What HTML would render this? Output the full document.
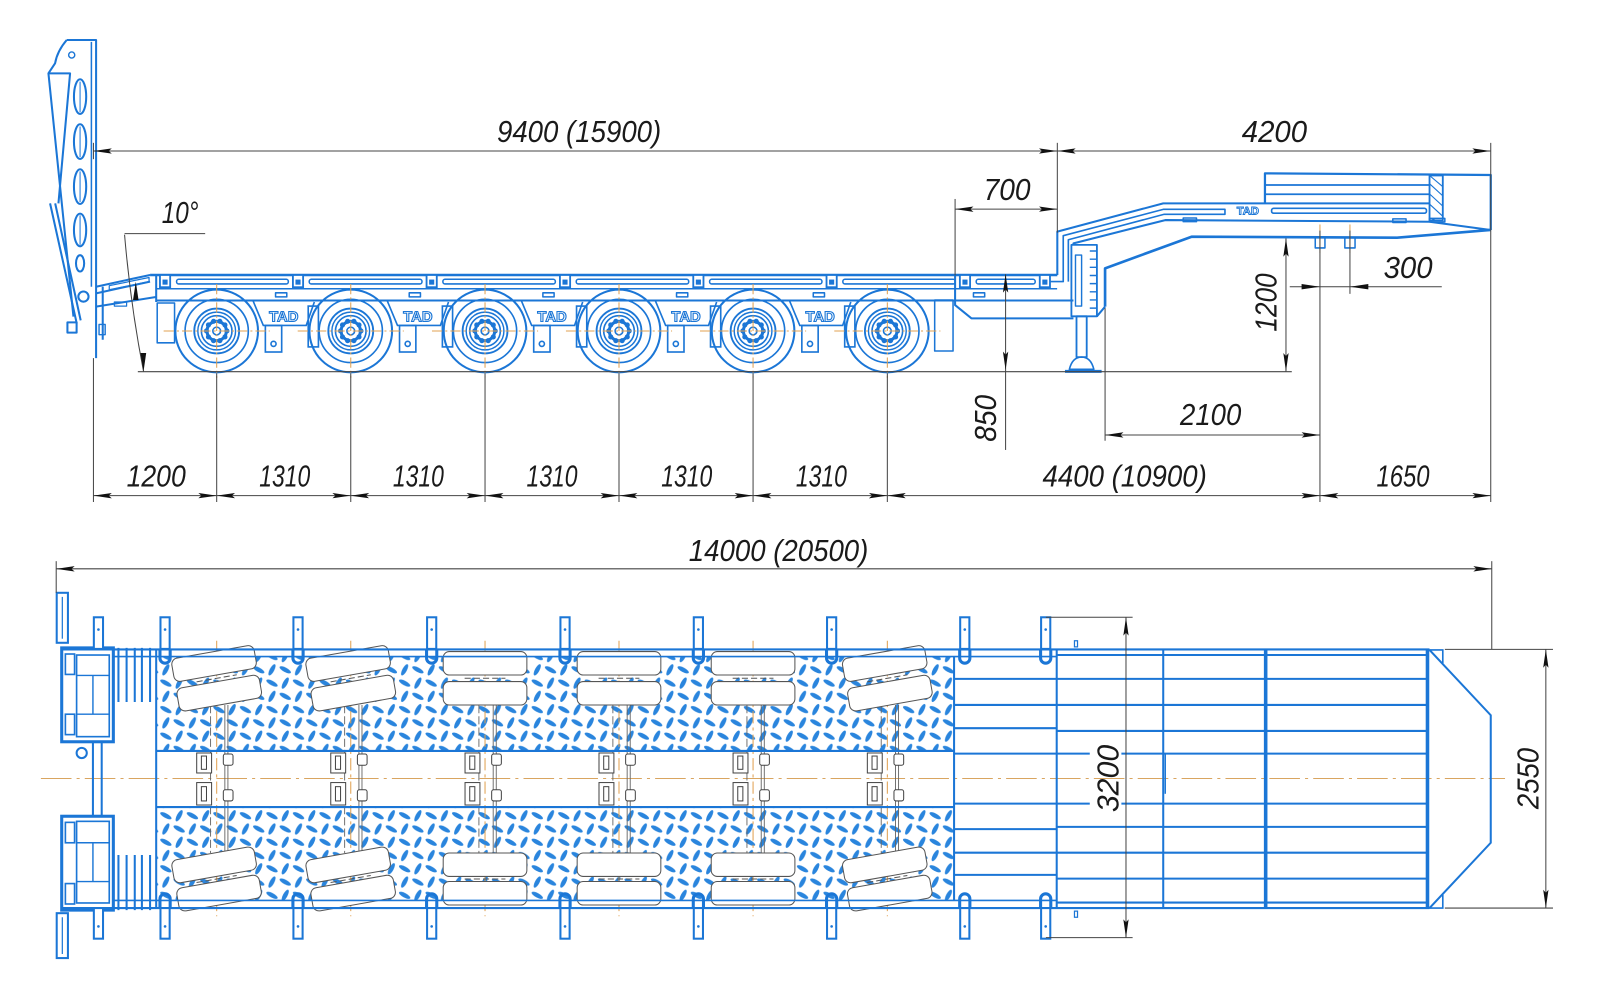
<!DOCTYPE html>
<html><head><meta charset="utf-8"><style>
html,body{margin:0;padding:0;background:#fff;}
svg{display:block;}
</style></head><body>
<svg xmlns="http://www.w3.org/2000/svg" width="1600" height="1005" viewBox="0 0 1568 985">
<defs>
<marker id="ar" viewBox="0 0 18 6" refX="18" refY="3" markerWidth="18" markerHeight="6" markerUnits="userSpaceOnUse" orient="auto-start-reverse"><path d="M0,0.4 L18,3 L0,5.6 L3,3z" fill="#111"/></marker>
<pattern id="tp" patternUnits="userSpaceOnUse" width="26" height="26">
<g fill="#2a85dd">
<ellipse cx="6.5" cy="6.5" rx="6.2" ry="2.2" transform="rotate(-62 6.5 6.5)"/>
<ellipse cx="19.5" cy="6.5" rx="6.2" ry="2.2" transform="rotate(28 19.5 6.5)"/>
<ellipse cx="6.5" cy="19.5" rx="6.2" ry="2.2" transform="rotate(28 6.5 19.5)"/>
<ellipse cx="19.5" cy="19.5" rx="6.2" ry="2.2" transform="rotate(-62 19.5 19.5)"/>
</g></pattern>
<g id="w">
<g fill="none" stroke="#1b76d6">
<circle r="40.5" stroke-width="2"/>
<circle r="31" stroke-width="1.6"/>
<circle r="22" stroke-width="1.8"/>
<circle r="18.5" stroke-width="1.4"/>
<circle r="15" stroke-width="1.6"/>
<circle r="9.5" stroke-width="3"/>
</g>
<g fill="#1b76d6">
<circle cx="10" cy="0" r="2.5"/><circle cx="8.09" cy="5.88" r="2.5"/><circle cx="3.09" cy="9.51" r="2.5"/><circle cx="-3.09" cy="9.51" r="2.5"/><circle cx="-8.09" cy="5.88" r="2.5"/><circle cx="-10" cy="0" r="2.5"/><circle cx="-8.09" cy="-5.88" r="2.5"/><circle cx="-3.09" cy="-9.51" r="2.5"/><circle cx="3.09" cy="-9.51" r="2.5"/><circle cx="8.09" cy="-5.88" r="2.5"/>
</g>
<circle r="3.8" fill="#fff" stroke="#1b76d6" stroke-width="1.5"/>
<g stroke="#e0a050" stroke-width="1" stroke-dasharray="10 3 2 3"><line x1="-52" y1="0" x2="52" y2="0"/><line x1="0" y1="-46" x2="0" y2="46"/></g>
</g>
<g id="b">
<g fill="none" stroke="#1b76d6" stroke-width="1.6">
<path d="M-30,295 L-20,319 L22,319 L30,296"/>
<rect x="-18" y="319" width="16" height="26"/>
<circle cx="-10" cy="337" r="2.5"/>
<rect x="24" y="300" width="10" height="40"/>
</g>
<text x="0" y="315" text-anchor="middle" font-family="Liberation Sans, sans-serif" font-weight="bold" font-size="14.5" fill="#fff" stroke="#1b76d6" stroke-width="1.1">TAD</text>
</g>
<g id="tt">
<rect x="-41" y="638.6" width="82" height="23" rx="6" fill="#fff" stroke="#555" stroke-width="1"/>
<rect x="-41" y="668" width="82" height="23" rx="6" fill="#fff" stroke="#555" stroke-width="1"/>
<line x1="-20" y1="664.8" x2="20" y2="664.8" stroke="#555" stroke-width="1" stroke-dasharray="6 3"/>
</g>
<g id="bt">
<rect x="-41" y="836" width="82" height="23" rx="6" fill="#fff" stroke="#555" stroke-width="1"/>
<rect x="-41" y="864" width="82" height="23" rx="6" fill="#fff" stroke="#555" stroke-width="1"/>
<line x1="-20" y1="861.5" x2="20" y2="861.5" stroke="#555" stroke-width="1" stroke-dasharray="6 3"/>
</g>
<g id="ax">
<g stroke="#666" stroke-width="0.9" fill="none">
<line x1="-6" y1="691" x2="-6" y2="836" stroke-dasharray="8 3"/>
<line x1="8" y1="691" x2="8" y2="836"/>
<line x1="11" y1="691" x2="11" y2="836"/>
</g>
<g stroke="#444" stroke-width="1" fill="#fff">
<rect x="-19.6" y="738" width="14.6" height="19.6"/>
<rect x="-15" y="741" width="5" height="13"/>
<rect x="-19.6" y="767" width="14.6" height="22"/>
<rect x="-15" y="771" width="5" height="14"/>
<rect x="6.5" y="739" width="9.5" height="11" rx="2"/>
<rect x="6.5" y="774" width="9.5" height="11" rx="2"/>
</g>
<line x1="0" y1="628" x2="0" y2="898" stroke="#e0a050" stroke-width="1" stroke-dasharray="12 4 3 4"/>
</g>
<g id="pt">
<rect x="-4.5" y="605" width="9" height="31" fill="#fff" stroke="#1b76d6" stroke-width="2"/>
<circle cx="0" cy="617" r="1.3" fill="#1b76d6"/>
</g>
<g id="pb">
<rect x="-4.5" y="890" width="9" height="30" fill="#fff" stroke="#1b76d6" stroke-width="2"/>
<circle cx="0" cy="908" r="1.3" fill="#1b76d6"/>
</g>
<path id="ut" d="M-5,636 L-5,645 A5,5 0 0 0 5,645 L5,636" fill="none" stroke="#1b76d6" stroke-width="3"/>
<path id="ub" d="M-5,890 L-5,881 A5,5 0 0 1 5,881 L5,890" fill="none" stroke="#1b76d6" stroke-width="3"/>
<g id="sp">
<rect x="-5" y="269.5" width="10" height="12" fill="#fff" stroke="#1b76d6" stroke-width="1.8"/>
<rect x="-2.5" y="274" width="5" height="5" fill="#1b76d6"/>
</g>
</defs>

<rect width="1568" height="985" fill="#fff"/>

<!-- ===== SIDE VIEW ===== -->
<g fill="none" stroke="#1b76d6" stroke-width="2" stroke-linejoin="round">
<path d="M65.3,39.2 L94.1,39.2 L94.1,351"/>
<line x1="89.5" y1="41" x2="89.5" y2="281" stroke-width="1.5"/>
<path d="M65.3,39.2 Q56,50 53.9,62.1 L47.4,71.9 L71.9,310.3"/>
<path d="M47.4,71.9 L68.6,71.9 L57.2,199.3"/>
<path d="M49,199.3 L75.1,316.9 M54,199.3 L79,314"/>
<circle cx="81.7" cy="290.7" r="5"/>
<rect x="66" y="316" width="9" height="10"/>
<circle cx="70.2" cy="53.9" r="3" stroke-width="1.4"/>
<ellipse cx="78.4" cy="94.7" rx="6" ry="17"/>
<ellipse cx="78.4" cy="138.8" rx="6" ry="17"/>
<ellipse cx="78.4" cy="182.9" rx="6" ry="17"/>
<ellipse cx="78.4" cy="225.4" rx="6" ry="16"/>
<ellipse cx="78.4" cy="258.1" rx="4" ry="8"/>
<path d="M78.4,80 L78.4,110 M78.4,124 L78.4,154 M78.4,168 L78.4,198 M78.4,211 L78.4,240" stroke-width="1"/>
<path d="M94,281 L147,269.5 M94,287.5 L147,276 M94,300.5 L153.5,291"/>
<line x1="100.6" y1="281" x2="100.6" y2="333"/>
<rect x="97" y="318" width="6" height="10" stroke-width="1.4"/>
<path d="M107,280 L146,272 L146,276 L107,284z" stroke-width="1.2"/>
<rect x="112" y="296" width="12" height="4" stroke-width="1.2"/>
<line x1="147" y1="269.5" x2="1036.2" y2="269.5" stroke-width="2.5"/>
<line x1="153" y1="283" x2="1036" y2="283" stroke-width="1.4"/>
<line x1="153" y1="269.5" x2="153" y2="296"/>
<line x1="153" y1="294.5" x2="1052" y2="294.5"/>
<path d="M936,269.5 L936,299 L952,312 L1052,312"/>
<g stroke-width="1.5">
<rect x="173" y="273.7" width="109.5" height="4.6" rx="2"/>
<rect x="303" y="273.7" width="110.5" height="4.6" rx="2"/>
<rect x="434" y="273.7" width="110.2" height="4.6" rx="2"/>
<rect x="564.7" y="273.7" width="110.2" height="4.6" rx="2"/>
<rect x="695.4" y="273.7" width="110.1" height="4.6" rx="2"/>
<rect x="826" y="273.7" width="110.2" height="4.6" rx="2"/>
<rect x="956.7" y="273.7" width="57.8" height="4.6" rx="2"/>
<rect x="270" y="287" width="11" height="4"/>
<rect x="401" y="287" width="11" height="4"/>
<rect x="532" y="287" width="11" height="4"/>
<rect x="663" y="287" width="11" height="4"/>
<rect x="797" y="287" width="11" height="4"/>
<rect x="954" y="287" width="11" height="4"/>
<rect x="154" y="297" width="17" height="39"/>
<rect x="916" y="294" width="18" height="50"/>
</g>
<path d="M1036.2,269.5 L1036.2,227 L1140,199.3 L1401,199.3"/>
<path d="M1020,276 L1042,276 L1042,231 L1140,205.2 L1200.5,205.2 L1200.5,210 L1141,210 L1047,235 L1047,276" stroke-width="1.6"/>
<rect x="1246.2" y="204.2" width="151.8" height="4.8" rx="2" stroke-width="1.6"/>
<path d="M1052,240 L1052,238.5 L1142,215.7 L1401,217.3 L1461,225.4"/>
<path d="M1239.7,199.3 L1239.7,169.9 L1461,171.5 L1461,225.4" stroke-width="2.2"/>
<path d="M1239.7,181.3 L1401,181.3 M1239.7,190.4 L1401,190.4" stroke-width="1.8"/>
<rect x="1401" y="172" width="13" height="44" stroke-width="1.8"/>
<path d="M1401,180 L1414,192 M1401,190 L1414,202 M1401,200 L1414,212 M1401,172 L1414,183 M1403,214 L1407,216" stroke-width="1.1"/>
<path d="M1083,300.5 L1083,263 L1167.8,232 L1369,233 L1461,225.4" stroke-width="2.6"/>
<path d="M1083,300.5 L1075,310"/>
<g stroke-width="1.5">
<rect x="1159.6" y="213.7" width="13" height="3.5"/>
<rect x="1365" y="214.5" width="13" height="3.5"/>
<rect x="1401" y="214" width="15" height="3.5"/>
<rect x="1289" y="233" width="9.5" height="10"/>
<rect x="1318" y="233" width="10" height="10"/>
</g>
<rect x="1050" y="240" width="25" height="70" stroke-width="1.8"/>
<rect x="1054" y="250" width="6" height="50" stroke-width="1.4"/>
<path d="M1068,246 L1075,246 M1068,254 L1075,254 M1068,262 L1075,262 M1068,270 L1075,270 M1068,278 L1075,278 M1068,286 L1075,286 M1068,294 L1075,294 M1068,302 L1075,302" stroke-width="1.4"/>
<rect x="1055" y="310" width="10" height="40" stroke-width="1.8"/>
<path d="M1048,362 Q1051,350 1060,350 Q1069,350 1072,362z" stroke-width="1.6"/>
<line x1="1043.7" y1="364" x2="1079.6" y2="364" stroke-width="3"/>
</g>
<g stroke="#e0a050" stroke-width="1"><line x1="1293.6" y1="220" x2="1293.6" y2="248"/><line x1="1323" y1="220" x2="1323" y2="248"/></g>
<text x="1223" y="210" text-anchor="middle" font-family="Liberation Sans, sans-serif" font-weight="bold" font-size="11" fill="#fff" stroke="#1b76d6" stroke-width="0.9">TAD</text>

<use href="#sp" x="161.7"/><use href="#sp" x="292"/><use href="#sp" x="423"/><use href="#sp" x="553.7"/><use href="#sp" x="684.4"/><use href="#sp" x="815"/><use href="#sp" x="945.7"/><use href="#sp" x="1024"/>
<use href="#b" x="278"/><use href="#b" x="409.5"/><use href="#b" x="541"/><use href="#b" x="672.3"/><use href="#b" x="803.8"/>
<use href="#w" x="212.3" y="324.4"/><use href="#w" x="343.7" y="324.4"/><use href="#w" x="475.3" y="324.4"/><use href="#w" x="606.6" y="324.4"/><use href="#w" x="738" y="324.4"/><use href="#w" x="869.6" y="324.4"/>

<g stroke="#444" stroke-width="1" fill="none">
<line x1="91.5" y1="148" x2="1036.2" y2="148" marker-start="url(#ar)" marker-end="url(#ar)"/>
<line x1="1036.2" y1="148" x2="1461" y2="148" marker-start="url(#ar)" marker-end="url(#ar)"/>
<line x1="1036.2" y1="140" x2="1036.2" y2="228"/>
<line x1="1461" y1="140" x2="1461" y2="492"/>
<line x1="91.5" y1="140" x2="91.5" y2="156"/>
<line x1="936" y1="195" x2="936" y2="270"/>
<line x1="936" y1="205" x2="1036.2" y2="205" marker-start="url(#ar)" marker-end="url(#ar)"/>
<line x1="122" y1="229" x2="201" y2="229"/>
<path d="M122,230 Q128,300 140.6,364"/>
<line x1="135" y1="364.3" x2="1266" y2="364.3"/>
<line x1="985.5" y1="268.8" x2="985.5" y2="362.6" marker-start="url(#ar)" marker-end="url(#ar)"/>
<line x1="985.5" y1="362.6" x2="985.5" y2="441"/>
<line x1="1260.3" y1="233.6" x2="1260.3" y2="364" marker-start="url(#ar)" marker-end="url(#ar)"/>
<line x1="1264" y1="281" x2="1413" y2="281"/>
<line x1="1293.6" y1="226" x2="1293.6" y2="492"/>
<line x1="1323" y1="226" x2="1323" y2="288"/>
<line x1="1083" y1="302" x2="1083" y2="432"/>
<line x1="1083" y1="426.3" x2="1293.6" y2="426.3" marker-start="url(#ar)" marker-end="url(#ar)"/>
<line x1="91.5" y1="351" x2="91.5" y2="492"/>
<line x1="212.3" y1="366" x2="212.3" y2="492"/>
<line x1="343.7" y1="366" x2="343.7" y2="492"/>
<line x1="475.3" y1="366" x2="475.3" y2="492"/>
<line x1="606.6" y1="366" x2="606.6" y2="492"/>
<line x1="738" y1="366" x2="738" y2="492"/>
<line x1="869.6" y1="366" x2="869.6" y2="492"/>
<line x1="91.5" y1="485.8" x2="212.3" y2="485.8" marker-start="url(#ar)" marker-end="url(#ar)"/>
<line x1="212.3" y1="485.8" x2="343.7" y2="485.8" marker-start="url(#ar)" marker-end="url(#ar)"/>
<line x1="343.7" y1="485.8" x2="475.3" y2="485.8" marker-start="url(#ar)" marker-end="url(#ar)"/>
<line x1="475.3" y1="485.8" x2="606.6" y2="485.8" marker-start="url(#ar)" marker-end="url(#ar)"/>
<line x1="606.6" y1="485.8" x2="738" y2="485.8" marker-start="url(#ar)" marker-end="url(#ar)"/>
<line x1="738" y1="485.8" x2="869.6" y2="485.8" marker-start="url(#ar)" marker-end="url(#ar)"/>
<line x1="869.6" y1="485.8" x2="1293.6" y2="485.8" marker-start="url(#ar)" marker-end="url(#ar)"/>
<line x1="1293.6" y1="485.8" x2="1461" y2="485.8" marker-start="url(#ar)" marker-end="url(#ar)"/>
</g>
<g fill="#111">
<polygon points="133,276 130.3,294 135.7,294"/>
<polygon points="140.6,364 137.6,346 143.2,346"/>
<polygon points="1293.6,281 1275.6,278.4 1275.6,283.6"/>
<polygon points="1323,281 1341,278.4 1341,283.6"/>
</g>

<!-- ===== PLAN VIEW ===== -->
<rect x="153" y="643.5" width="782" height="92.5" fill="url(#tp)"/>
<rect x="153" y="791" width="782" height="91.5" fill="url(#tp)"/>
<line x1="40" y1="763" x2="1475" y2="763" stroke="#d9a560" stroke-width="1" stroke-dasharray="30 5 3 5"/>

<use href="#ax" x="212.3"/><use href="#ax" x="343.7"/><use href="#ax" x="475.3"/><use href="#ax" x="606.6"/><use href="#ax" x="738"/><use href="#ax" x="869.6"/>
<g transform="translate(212.3 0) rotate(-10 0 665)"><use href="#tt"/></g>
<g transform="translate(343.7 0) rotate(-10 0 665)"><use href="#tt"/></g>
<use href="#tt" x="475.3"/><use href="#tt" x="606.6"/><use href="#tt" x="738"/>
<g transform="translate(869.6 0) rotate(-10 0 665)"><use href="#tt"/></g>
<g transform="translate(212.3 0) rotate(-10 0 862)"><use href="#bt"/></g>
<g transform="translate(343.7 0) rotate(-10 0 862)"><use href="#bt"/></g>
<use href="#bt" x="475.3"/><use href="#bt" x="606.6"/><use href="#bt" x="738"/>
<g transform="translate(869.6 0) rotate(-10 0 862)"><use href="#bt"/></g>

<g fill="none" stroke="#1b76d6" stroke-width="2">
<line x1="60" y1="636.5" x2="1401" y2="636.5"/>
<line x1="111" y1="643.5" x2="1035.6" y2="643.5" stroke-width="1.6"/>
<line x1="111" y1="882.5" x2="1035.6" y2="882.5" stroke-width="1.6"/>
<line x1="60" y1="890" x2="1401" y2="890"/>
<line x1="153" y1="636.5" x2="153" y2="890"/>
<line x1="153" y1="736" x2="935" y2="736"/>
<line x1="153" y1="791" x2="935" y2="791"/>
<line x1="935" y1="643.5" x2="935" y2="882.5"/>
<line x1="1035.6" y1="636.5" x2="1035.6" y2="890"/>
<line x1="1140" y1="636.5" x2="1140" y2="890"/>
<line x1="1240.4" y1="636.5" x2="1240.4" y2="890" stroke-width="3.5"/>
<line x1="1399" y1="636.5" x2="1399" y2="890" stroke-width="3.5"/>
<path d="M1401,637 L1461,701 L1461,826 L1401,890"/>
<path d="M1401,637 L1414,637 L1414,650 M1401,890 L1414,890 L1414,877" stroke-width="1.6"/>
<path d="M935,665.4 H1035.6 M935,690.9 H1035.6 M935,713.7 H1035.6 M935,738.6 H1035.6 M935,787.6 H1035.6 M935,812.6 H1035.6 M935,835.7 H1035.6 M935,857.5 H1035.6"/>
<path d="M1035.6,642 H1399 M1035.6,665.4 H1399 M1035.6,690.9 H1399 M1035.6,716.4 H1399 M1140,738.6 H1399 M1140,787.6 H1399 M1035.6,810.4 H1399 M1035.6,835.7 H1399 M1035.6,861.1 H1399 M1035.6,884.6 H1399"/>
<path d="M1035.6,738.6 H1068 M1099,738.6 H1140 M1035.6,787.6 H1068 M1099,787.6 H1140"/>
<line x1="1142" y1="738.6" x2="1142" y2="778" stroke-width="1.4"/>
<rect x="1053" y="628" width="3" height="6" stroke-width="1.2"/>
<rect x="1053" y="893" width="3" height="6" stroke-width="1.2"/>
<rect x="60.4" y="635" width="50.6" height="92" stroke-width="3"/>
<rect x="64" y="641" width="9" height="20" stroke-width="1.6"/>
<rect x="64" y="700" width="9" height="20" stroke-width="1.6"/>
<rect x="75" y="642" width="32" height="80" stroke-width="1.6"/>
<path d="M75,662 H107 M75,700 H107 M91,662 V700" stroke-width="1.4"/>
<rect x="60.4" y="800" width="50.6" height="92" stroke-width="3"/>
<rect x="64" y="806" width="9" height="20" stroke-width="1.6"/>
<rect x="64" y="866" width="9" height="20" stroke-width="1.6"/>
<rect x="75" y="805" width="32" height="80" stroke-width="1.6"/>
<path d="M75,826 H107 M75,864 H107 M91,826 V864" stroke-width="1.4"/>
<rect x="91" y="727" width="8.6" height="73"/>
<circle cx="80" cy="738" r="5"/>
<rect x="55.5" y="581" width="11" height="49"/>
<line x1="61" y1="585" x2="61" y2="626" stroke-width="1.2"/>
<rect x="55.5" y="895" width="11" height="44"/>
<line x1="61" y1="899" x2="61" y2="935" stroke-width="1.2"/>
<path d="M116,635 V688 M124,635 V688 M132,635 V688 M139,635 V688 M147,635 V688"/>
<path d="M116,838 V892 M124,838 V892 M132,838 V892 M139,838 V892 M147,838 V892"/>
</g>
<use href="#pt" x="96.4"/><use href="#pt" x="161.7"/><use href="#pt" x="292"/><use href="#pt" x="423"/><use href="#pt" x="553.7"/><use href="#pt" x="684.4"/><use href="#pt" x="815"/><use href="#pt" x="945.5"/><use href="#pt" x="1024.8"/>
<use href="#pb" x="96.4"/><use href="#pb" x="161.7"/><use href="#pb" x="292"/><use href="#pb" x="423"/><use href="#pb" x="553.7"/><use href="#pb" x="684.4"/><use href="#pb" x="815"/><use href="#pb" x="945.5"/><use href="#pb" x="1024.8"/>
<use href="#ut" x="161.7"/><use href="#ut" x="292"/><use href="#ut" x="423"/><use href="#ut" x="553.7"/><use href="#ut" x="684.4"/><use href="#ut" x="815"/><use href="#ut" x="945.5"/><use href="#ut" x="1024.8"/>
<use href="#ub" x="161.7"/><use href="#ub" x="292"/><use href="#ub" x="423"/><use href="#ub" x="553.7"/><use href="#ub" x="684.4"/><use href="#ub" x="815"/><use href="#ub" x="945.5"/><use href="#ub" x="1024.8"/>

<g stroke="#444" stroke-width="1" fill="none">
<line x1="55" y1="557.5" x2="1462" y2="557.5" marker-start="url(#ar)" marker-end="url(#ar)"/>
<line x1="55" y1="550" x2="55" y2="581"/>
<line x1="1462" y1="550" x2="1462" y2="636.5"/>
<line x1="1025" y1="605" x2="1110" y2="605"/>
<line x1="1025" y1="919" x2="1110" y2="919"/>
<line x1="1103.5" y1="605" x2="1103.5" y2="919" marker-start="url(#ar)" marker-end="url(#ar)"/>
<line x1="1416" y1="636.5" x2="1522" y2="636.5"/>
<line x1="1416" y1="890" x2="1522" y2="890"/>
<line x1="1515" y1="636.5" x2="1515" y2="890" marker-start="url(#ar)" marker-end="url(#ar)"/>
</g>

<g font-family="Liberation Sans, sans-serif" font-style="italic" font-size="30" fill="#1a1a1a">
<text x="487" y="139" textLength="161" lengthAdjust="spacingAndGlyphs">9400 (15900)</text>
<text x="1217" y="139" textLength="64" lengthAdjust="spacingAndGlyphs">4200</text>
<text x="964" y="196" textLength="46" lengthAdjust="spacingAndGlyphs">700</text>
<text x="158.5" y="218.5" textLength="36" lengthAdjust="spacingAndGlyphs">10°</text>
<text x="1356" y="272.5" textLength="48" lengthAdjust="spacingAndGlyphs">300</text>
<text transform="translate(1251 325) rotate(-90)" x="0" y="0" textLength="57" lengthAdjust="spacingAndGlyphs">1200</text>
<text transform="translate(976 433) rotate(-90)" x="0" y="0" textLength="46" lengthAdjust="spacingAndGlyphs">850</text>
<text x="1156.5" y="416.5" textLength="60" lengthAdjust="spacingAndGlyphs">2100</text>
<text x="124" y="477" textLength="58" lengthAdjust="spacingAndGlyphs">1200</text>
<text x="254" y="477" textLength="50" lengthAdjust="spacingAndGlyphs">1310</text>
<text x="385" y="477" textLength="50" lengthAdjust="spacingAndGlyphs">1310</text>
<text x="516" y="477" textLength="50" lengthAdjust="spacingAndGlyphs">1310</text>
<text x="648" y="477" textLength="50" lengthAdjust="spacingAndGlyphs">1310</text>
<text x="780" y="477" textLength="50" lengthAdjust="spacingAndGlyphs">1310</text>
<text x="1021.7" y="477" textLength="161" lengthAdjust="spacingAndGlyphs">4400 (10900)</text>
<text x="1349" y="477" textLength="52" lengthAdjust="spacingAndGlyphs">1650</text>
<text x="675" y="550" textLength="176" lengthAdjust="spacingAndGlyphs">14000 (20500)</text>
<text transform="translate(1096 796) rotate(-90)" x="0" y="0" textLength="66" lengthAdjust="spacingAndGlyphs">3200</text>
<text transform="translate(1508 793) rotate(-90)" x="0" y="0" textLength="60" lengthAdjust="spacingAndGlyphs">2550</text>
</g>
</svg>
</body></html>
